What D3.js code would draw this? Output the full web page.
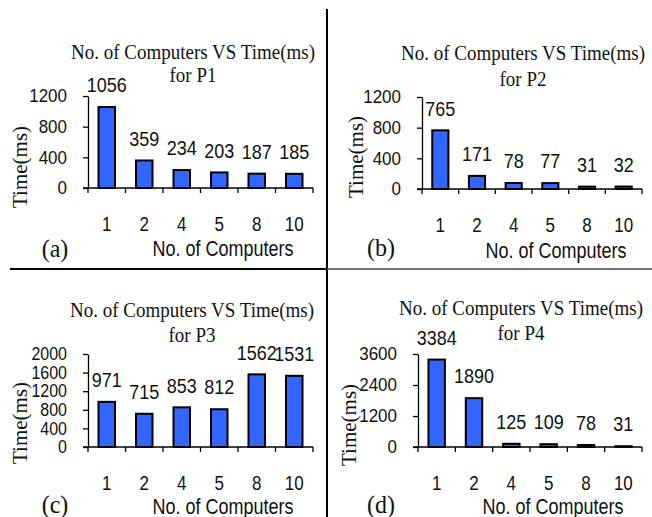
<!DOCTYPE html>
<html>
<head>
<meta charset="utf-8">
<script src="https://cdn.jsdelivr.net/npm/d3@7"></script>
<style>
  body { margin: 0; background: #fff; }
</style>
</head>
<body>
<div id="visContainer"></div>
<script>
// data
const computers = ["1", "2", "4", "5", "8", "10"];
const p1Times = [1056, 359, 234, 203, 187, 185];
const p2Times = [765, 171, 78, 77, 31, 32];
const p3Times = [971, 715, 853, 812, 1562, 1531];
const p4Times = [3384, 1890, 125, 109, 78, 31];

const p12Ticks = [0, 400, 800, 1200];
const p3Ticks = [0, 400, 800, 1200, 1600, 2000];
const p4Ticks = [0, 1200, 2400, 3600];

const titles = ["for P1", "for P2", "for P3", "for P4"];
const letters = ["(a)", "(b)", "(c)", "(d)"];

const width = 652;
const height = 517;
const serif = "Liberation Serif, Times New Roman, serif";
const sans = "Liberation Sans, Arial, sans-serif";

const svg = d3.select("#visContainer")
  .append("svg")
  .attr("width", width)
  .attr("height", height);

// panel layout
const panels = [
  { data: p1Times, ticks: p12Ticks, x0: 88, x1: 313, y0: 188, y1: 96,
    title: [193, 52, 75], letter: [55, 248], xlab: [223, 248], ylab: [20, 167] },
  { data: p2Times, ticks: p12Ticks, x0: 422, x1: 642, y0: 189, y1: 97,
    title: [523, 53, 79], letter: [381, 247], xlab: [556, 250], ylab: [356, 157] },
  { data: p3Times, ticks: p3Ticks, x0: 88, x1: 313, y0: 447, y1: 354,
    title: [192, 310, 335], letter: [55, 504], xlab: [223, 506], ylab: [20, 423] },
  { data: p4Times, ticks: p4Ticks, x0: 418, x1: 642, y0: 447, y1: 354,
    title: [521, 308, 333], letter: [381, 504], xlab: [553, 506], ylab: [349, 425] },
];

// text helper, the figure's text is a bit stretched vertically
function label(g, x, y, txt, font, size, sy, anchor = "middle") {
  return g.append("text")
    .attr("transform", `translate(${x},${y}) scale(1,${sy})`)
    .attr("dy", "0.35em")
    .attr("text-anchor", anchor)
    .style("font-family", font)
    .style("font-size", size + "px")
    .attr("fill", "#111")
    .text(txt);
}

// separators
svg.append("line")
  .attr("x1", 327).attr("x2", 327).attr("y1", 9).attr("y2", height)
  .attr("stroke", "#000").attr("stroke-width", 2);
svg.append("line")
  .attr("x1", 10).attr("x2", 327).attr("y1", 269).attr("y2", 269)
  .attr("stroke", "#000").attr("stroke-width", 2);
svg.append("line")
  .attr("x1", 327).attr("x2", width).attr("y1", 269).attr("y2", 269)
  .attr("stroke", "#444").attr("stroke-width", 1.5);

panels.forEach((p, i) => {
  const g = svg.append("g");

  const xScale = d3.scaleBand()
    .domain(computers)
    .range([p.x0, p.x1])
    .paddingInner(0.56)
    .paddingOuter(0.28);

  const yScale = d3.scaleLinear()
    .domain([0, d3.max(p.ticks)])
    .range([p.y0, p.y1]);

  // bars
  g.selectAll("rect")
    .data(p.data)
    .join("rect")
    .attr("x", (d, j) => xScale(computers[j]))
    .attr("y", (d) => yScale(d))
    .attr("width", xScale.bandwidth())
    .attr("height", (d) => yScale(0) - yScale(d))
    .attr("fill", "#3366ff")
    .attr("stroke", "#000")
    .attr("stroke-width", 2);

  // value labels
  p.data.forEach((d, j) => {
    label(g, xScale(computers[j]) + xScale.bandwidth() / 2, yScale(d) - 22,
      d, sans, 18, 1.15);
  });

  // y axis
  const yAxis = g.append("g")
    .attr("transform", `translate(${p.x0},0)`)
    .call(d3.axisLeft(yScale)
      .tickValues(p.ticks)
      .tickFormat(d3.format("d"))
      .tickSize(5)
      .tickSizeOuter(0)
      .tickPadding(16));
  yAxis.select(".domain").attr("stroke", "#000").attr("stroke-width", 1.3);
  yAxis.selectAll(".tick line").attr("stroke", "#000").attr("stroke-width", 1.3);
  yAxis.selectAll(".tick text")
    .attr("transform", "scale(1,1.1)")
    .style("font-family", sans)
    .style("font-size", i === 2 ? "16px" : "17px")
    .attr("fill", "#111");

  // x axis line and boundary ticks
  const yZero = yScale(0);
  g.append("line")
    .attr("x1", p.x0 - 5).attr("x2", p.x1)
    .attr("y1", yZero).attr("y2", yZero)
    .attr("stroke", "#000").attr("stroke-width", 1.3);
  const gap = (xScale.step() - xScale.bandwidth()) / 2;
  const bounds = computers.map((c) => xScale(c) - gap).concat([p.x1]);
  g.selectAll("line.xtick")
    .data(bounds)
    .join("line")
    .attr("class", "xtick")
    .attr("x1", (d) => d).attr("x2", (d) => d)
    .attr("y1", yZero).attr("y2", yZero + 5)
    .attr("stroke", "#000").attr("stroke-width", 1.3);

  // category labels
  computers.forEach((c) => {
    label(g, xScale(c) + xScale.bandwidth() / 2, yZero + 36, c, sans, 17, 1.15);
  });

  // titles and axis names
  label(g, p.title[0], p.title[1], "No. of Computers VS Time(ms)", serif, 19, 1.1);
  label(g, p.title[0], p.title[2], titles[i], serif, 19, 1.1);
  label(g, p.letter[0], p.letter[1], letters[i], serif, 24, 1.05);
  label(g, p.xlab[0], p.xlab[1], "No. of Computers", sans, 18, 1.2);

  g.append("text")
    .attr("transform", `translate(${p.ylab[0]},${p.ylab[1]}) rotate(-90)`)
    .attr("dy", "0.35em")
    .attr("text-anchor", "middle")
    .style("font-family", serif)
    .style("font-size", "21px")
    .attr("fill", "#111")
    .text("Time(ms)");
});
</script>
</body>
</html>
